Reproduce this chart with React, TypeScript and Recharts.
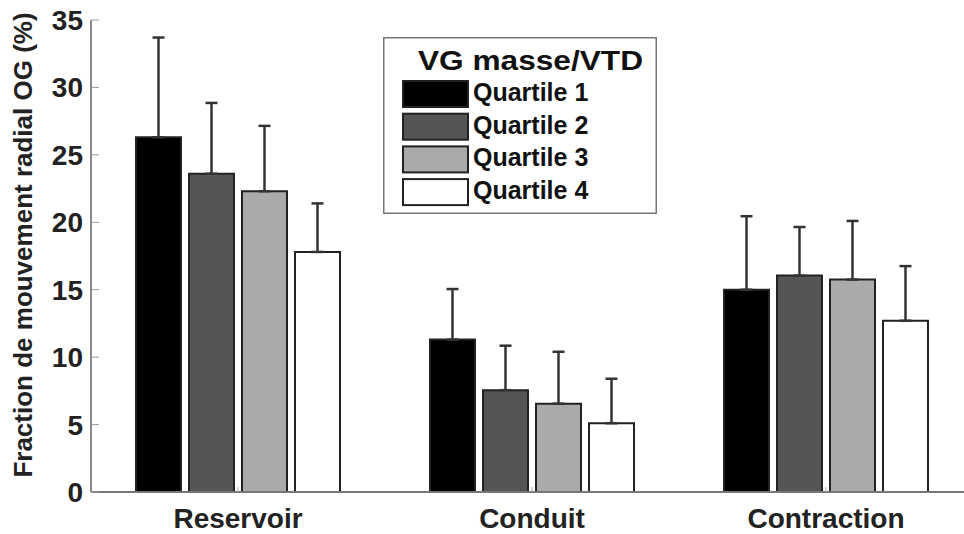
import { BarChart, Bar, XAxis, YAxis, ErrorBar, Legend } from "recharts";

const categories = ["Reservoir", "Conduit", "Contraction"];
const quartiles = ["Quartile 1", "Quartile 2", "Quartile 3", "Quartile 4"];
const fills = ["#000000", "#555555", "#aaaaaa", "#ffffff"];

// means and upper SD
const q1 = [26.3, 11.3, 15.0];
const q2 = [23.6, 7.55, 16.05];
const q3 = [22.3, 6.55, 15.75];
const q4 = [17.8, 5.1, 12.7];
const q1Sd = [7.4, 3.75, 5.45];
const q2Sd = [5.25, 3.3, 3.6];
const q3Sd = [4.85, 3.85, 4.35];
const q4Sd = [3.6, 3.3, 4.05];
const yTicks = [0, 5, 10, 15, 20, 25, 30, 35];

const means = [q1, q2, q3, q4];
const sds = [q1Sd, q2Sd, q3Sd, q4Sd];

const data = categories.map((name, i) => {
  const row: Record<string, any> = { name };
  means.forEach((m, k) => {
    row[`q${k + 1}`] = m[i];
    row[`q${k + 1}e`] = [0, sds[k][i]];
  });
  return row;
});

const font = '"Liberation Sans", Arial, sans-serif';
const textFill = "#222";

function LegendBox() {
  return (
    <svg width={274} height={177} style={{ display: "block" }}>
      <rect x={0.75} y={0.75} width={272.5} height={175.5} fill="#fff" stroke="#777" strokeWidth={1.5} />
      <text x={35} y={33} fontFamily={font} fontWeight="bold" fontSize={28} fill="#111" textLength={225} lengthAdjust="spacingAndGlyphs">
        VG masse/VTD
      </text>
      {quartiles.map((q, i) => (
        <g key={q}>
          <rect x={20} y={44 + i * 32.7} width={65} height={26} fill={fills[i]} stroke="#222" strokeWidth={2} />
          <text x={90} y={64 + i * 32.7} fontFamily={font} fontWeight="bold" fontSize={25} fill="#111">
            {q}
          </text>
        </g>
      ))}
    </svg>
  );
}

function YLabel(props: any) {
  const vb = props.viewBox;
  const cx = vb.x + 23;
  const cy = vb.y + vb.height / 2 - 11;
  return (
    <text x={cx} y={cy} transform={`rotate(-90 ${cx} ${cy})`} textAnchor="middle" dominantBaseline="central"
      fontFamily={font} fontWeight="bold" fontSize={26} fill={textFill}>
      Fraction de mouvement radial OG (%)
    </text>
  );
}

export default function App() {
  return (
    <div style={{ position: "fixed", left: 0, top: 0, width: 964, height: 534, overflow: "hidden", background: "#fff" }}>
      <BarChart width={1000} height={534} data={data} margin={{ top: 20, right: 17, bottom: 0, left: 0 }}
        barSize={45} barGap={8}>
        <XAxis dataKey="name" height={42} tickSize={-5} tickMargin={21}
          axisLine={{ stroke: "#777", strokeWidth: 2 }} tickLine={{ stroke: "#aaa" }}
          tick={{ fill: textFill, fontSize: 28, fontWeight: "bold", fontFamily: font }} />
        <XAxis xAxisId="top" dataKey="name" orientation="top" height={0} tickSize={-7}
          axisLine={{ stroke: "#999", strokeWidth: 2 }} tickLine={{ stroke: "#999" }} tick={() => <g />} />
        <YAxis domain={[0, 35]} ticks={yTicks} width={91} tickSize={-8} tickMargin={16}
          axisLine={{ stroke: "#888", strokeWidth: 2 }} tickLine={{ stroke: "#999" }}
          tick={{ fill: textFill, fontSize: 28, fontWeight: "bold", fontFamily: font }}
          label={<YLabel />} />
        <YAxis yAxisId="right" orientation="right" domain={[0, 35]} ticks={yTicks} width={10} tickSize={-8}
          axisLine={{ stroke: "#999", strokeWidth: 2 }} tickLine={{ stroke: "#999" }} tick={() => <g />} />
        <Legend layout="vertical" align="center" verticalAlign="middle" content={() => <LegendBox />}
          wrapperStyle={{ left: 383, top: 37, width: 274, height: 177 }} />
        {quartiles.map((q, k) => (
          <Bar key={q} dataKey={`q${k + 1}`} name={q} fill={fills[k]} stroke="#222" strokeWidth={2} isAnimationActive={false}>
            <ErrorBar dataKey={`q${k + 1}e`} width={6} stroke="#333" strokeWidth={2.5} direction="y" />
          </Bar>
        ))}
      </BarChart>
    </div>
  );
}
